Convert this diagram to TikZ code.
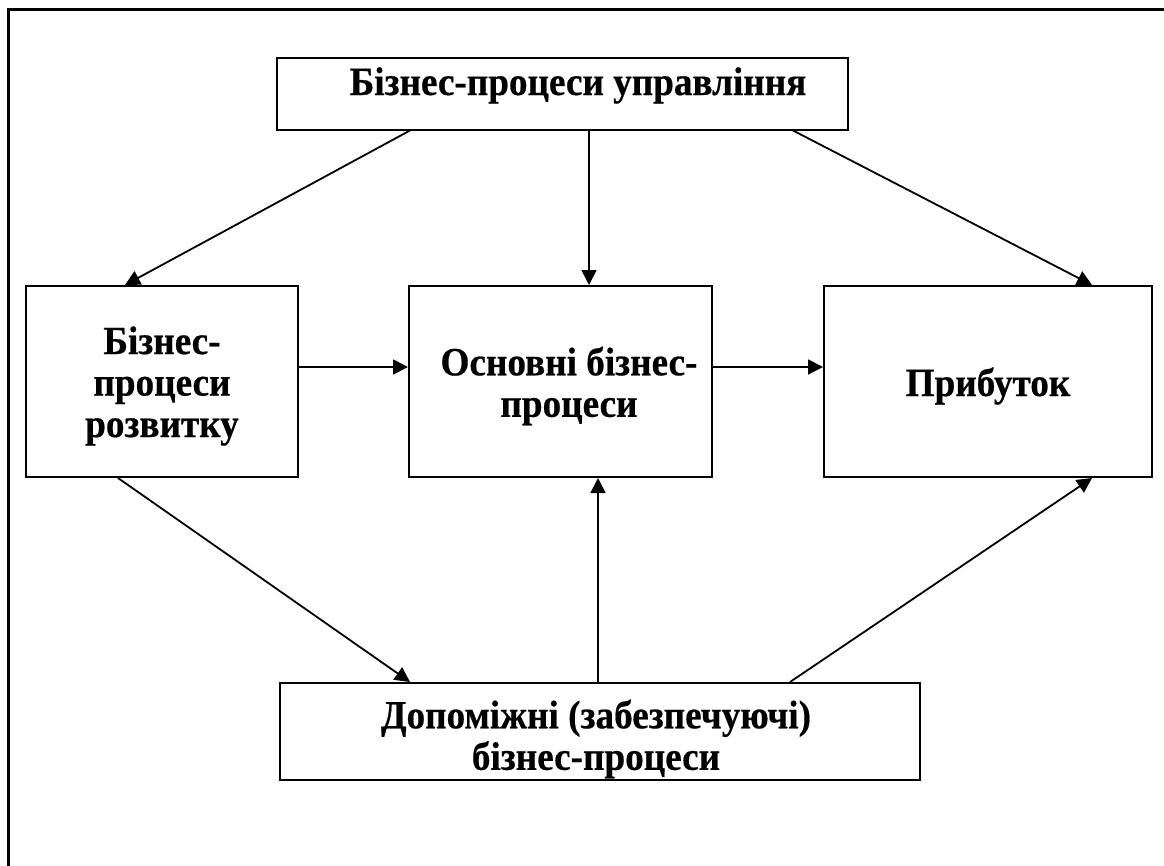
\documentclass[tikz,border=0pt]{standalone}
\usepackage{fontspec}
\setmainfont{Liberation Serif}
\newfontfamily\reffont[FakeStretch=0.93, BoldFeatures={FakeBold=0.5}]{Liberation Serif}
\usetikzlibrary{arrows.meta}
\tikzset{
  procbox/.style={draw=black, line width=2pt, rectangle, inner sep=0pt},
  boxtext/.style={align=center, inner sep=0pt,
    font=\reffont\bfseries\fontsize{40}{41.5}\selectfont},
  arr/.style={line width=1.8pt, -{Triangle[length=15pt,width=15pt]}},
  frameline/.style={line width=3pt}
}
\begin{document}
\begin{tikzpicture}[x=1pt,y=-1pt]
\useasboundingbox (0,0) rectangle (1164,865);
% outer frame (only left and top edges visible)
\coordinate (fbl) at (8.5,866);
\coordinate (ftl) at (8.5,9.5);
\coordinate (ftr) at (1165,9.5);
\draw[frameline] (fbl) -- (ftl) -- (ftr);

% boxes
\node[procbox, minimum width=571pt, minimum height=72pt] (top) at (562.5,93.5) {};
\node[procbox, minimum width=272pt, minimum height=191pt] (left) at (162,381.5) {};
\node[procbox, minimum width=303pt, minimum height=191pt] (mid) at (560.5,381.5) {};
\node[procbox, minimum width=328pt, minimum height=191pt] (right) at (988,381.5) {};
\node[procbox, minimum width=640pt, minimum height=97pt] (bot) at (600,731.5) {};

% texts
\node[boxtext, anchor=base] (toptext) at (578,95) {Бізнес-процеси управління};
\node[boxtext] (lefttext) at (162,386) {Бізнес-\\процеси\\розвитку};
\node[boxtext] (midtext) at (569,386) {Основні бізнес-\\процеси};
\node[boxtext, anchor=base] (righttext) at (988,396) {Прибуток};
\node[boxtext] (bottext) at (596,739) {Допоміжні (забезпечуючі)\\бізнес-процеси};

% arrows from top
\draw[arr] (410,0 |- top.south) -- (125,0 |- left.north);
\draw[arr] (589,0 |- top.south) -- (589,0 |- mid.north);
\draw[arr] (793,0 |- top.south) -- (1092,0 |- right.north);
% horizontal arrows
\draw[arr] (left.east |- 0,367) -- (mid.west |- 0,367);
\draw[arr] (mid.east |- 0,367) -- (right.west |- 0,367);
% arrows involving bottom box
\draw[arr] (118,0 |- left.south) -- (410,0 |- bot.north);
\draw[arr] (598,0 |- bot.north) -- (598,0 |- mid.south);
\draw[arr] (790,0 |- bot.north) -- (1092,0 |- right.south);
\end{tikzpicture}
\end{document}
